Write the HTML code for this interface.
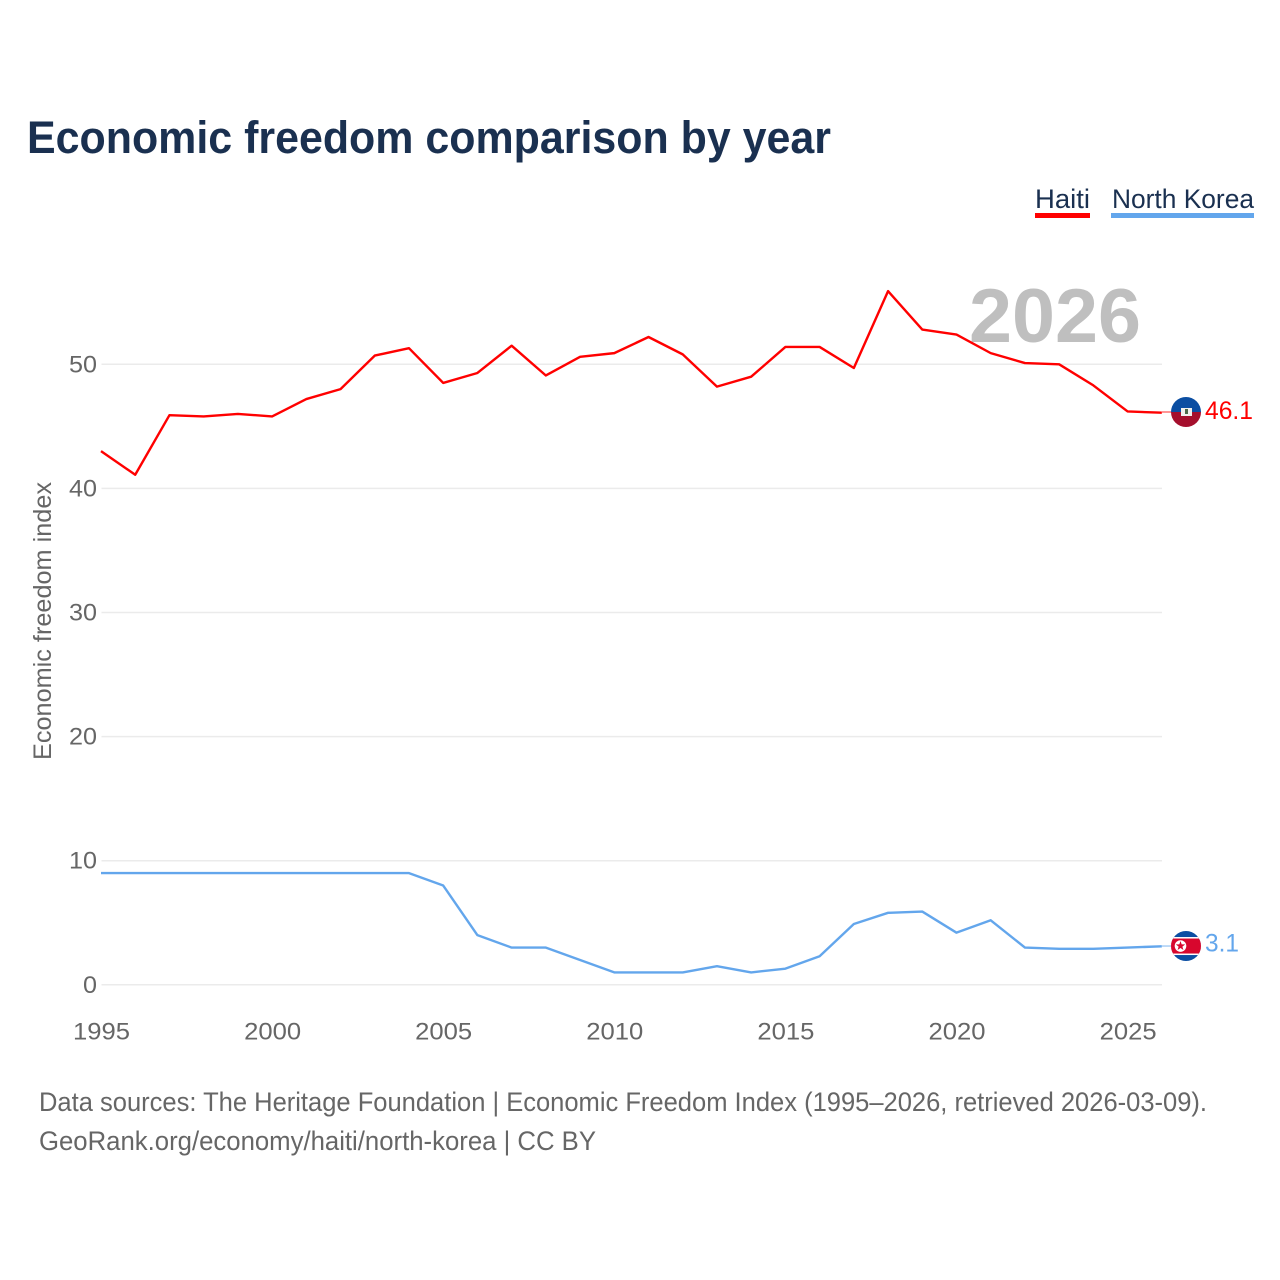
<!DOCTYPE html>
<html lang="en">
<head>
<meta charset="utf-8">
<title>Economic freedom comparison by year</title>
<style>
html,body{margin:0;padding:0;background:#fff}
svg{display:block}
text{font-family:"Liberation Sans",sans-serif}
</style>
</head>
<body>
<svg id="chart" xmlns="http://www.w3.org/2000/svg" width="1280" height="1280" viewBox="0 0 1280 1280">
  <defs>
    <clipPath id="clip-haiti"><circle id="clip-haiti-c" cx="1186" cy="412" r="15"/></clipPath>
    <clipPath id="clip-nk"><circle id="clip-nk-c" cx="1186" cy="946" r="15"/></clipPath>
  </defs>
  <rect width="1280" height="1280" fill="#fff"/>
  <text x="27" y="153" font-size="45" font-weight="700" fill="#1a3050" textLength="804" lengthAdjust="spacingAndGlyphs">Economic freedom comparison by year</text>
  <g>
    <g>
      <text x="1035" y="208" font-size="27" fill="#1a3050" textLength="55" lengthAdjust="spacingAndGlyphs">Haiti</text>
      <rect x="1035" y="213" width="55" height="5" fill="#ff0000"/>
    </g>
    <g>
      <text x="1112" y="208" font-size="27" fill="#1a3050" textLength="142" lengthAdjust="spacingAndGlyphs">North Korea</text>
      <rect x="1111" y="213" width="143" height="5" fill="#63a6ec"/>
    </g>
  </g>
  <text x="969" y="342" font-size="76" font-weight="700" fill="#bfbfbf" textLength="172" lengthAdjust="spacingAndGlyphs">2026</text>
  <g id="grid"></g>
  <g id="yticks"></g>
  <g id="xticks"></g>
  <text transform="translate(51,760) rotate(-90)" x="0" y="0" font-size="25" fill="#666" textLength="278" lengthAdjust="spacingAndGlyphs">Economic freedom index</text>
  <g id="series"></g>
  <g id="flag-haiti" clip-path="url(#clip-haiti)"></g>
  <g id="flag-nk" clip-path="url(#clip-nk)"></g>
  <g id="end-labels"></g>
  <text x="39" y="1111" font-size="27" fill="#666" textLength="1168" lengthAdjust="spacingAndGlyphs">Data sources: The Heritage Foundation | Economic Freedom Index (1995–2026, retrieved 2026-03-09).</text>
  <text x="39" y="1150" font-size="27" fill="#666" textLength="557" lengthAdjust="spacingAndGlyphs">GeoRank.org/economy/haiti/north-korea | CC BY</text>
</svg>
<script>
const years = [1995,1996,1997,1998,1999,2000,2001,2002,2003,2004,2005,2006,2007,2008,2009,2010,2011,2012,2013,2014,2015,2016,2017,2018,2019,2020,2021,2022,2023,2024,2025,2026];
const haitiValues = [43.0,41.1,45.9,45.8,46.0,45.8,47.2,48.0,50.7,51.3,48.5,49.3,51.5,49.1,50.6,50.9,52.2,50.8,48.2,49.0,51.4,51.4,49.7,55.9,52.8,52.4,50.9,50.1,50.0,48.3,46.2,46.1];
const northKoreaValues = [9.0,9.0,9.0,9.0,9.0,9.0,9.0,9.0,9.0,9.0,8.0,4.0,3.0,3.0,2.0,1.0,1.0,1.0,1.5,1.0,1.3,2.3,4.9,5.8,5.9,4.2,5.2,3.0,2.9,2.9,3.0,3.1];
const yTicks = [0,10,20,30,40,50];
const xTicks = [1995,2000,2005,2010,2015,2020,2025];

const NS = 'http://www.w3.org/2000/svg';
function xScale(year){ return 101 + (year - 1995) * 34.22; }
function yScale(v){ return 984.8 - v * 12.41; }
function make(tag, parent, attrs){
  const el = document.createElementNS(NS, tag);
  for (const k in attrs) el.setAttribute(k, attrs[k]);
  parent.appendChild(el);
  return el;
}
const gridG = document.getElementById('grid');
const yG = document.getElementById('yticks');
const xG = document.getElementById('xticks');
const seriesG = document.getElementById('series');
const labelsG = document.getElementById('end-labels');

yTicks.forEach(function(t){
  const line = make('line', gridG, {x1:101.5, x2:1162, y1:yScale(t), y2:yScale(t), stroke:'#ebebeb', 'stroke-width':1.5});
  
  
  const s = String(t);
  const label = make('text', yG, {x:97, y:yScale(t)+8, 'text-anchor':'end', 'font-size':24, fill:'#666', textLength:s.length*14, lengthAdjust:'spacingAndGlyphs'});
  
  
  label.textContent = s;
});

xTicks.forEach(function(t){
  const label = make('text', xG, {x:xScale(t)+0.5, y:1039.5, 'text-anchor':'middle', 'font-size':24, fill:'#666', textLength:57, lengthAdjust:'spacingAndGlyphs'});
  
  
  label.textContent = String(t);
});

function pathFor(values){
  return values.map(function(v,i){ return (i ? 'L' : 'M') + xScale(years[i]).toFixed(2) + ' ' + yScale(v).toFixed(2); }).join(' ');
}

const haitiLine = make('path', seriesG, {d:pathFor(haitiValues), fill:'none', stroke:'#ff0000', 'stroke-width':2.4, 'stroke-linejoin':'round'});


const nkLine = make('path', seriesG, {d:pathFor(northKoreaValues), fill:'none', stroke:'#63a6ec', 'stroke-width':2.4, 'stroke-linejoin':'round'});



const hLast = haitiValues[haitiValues.length-1];
const nLast = northKoreaValues[northKoreaValues.length-1];
const hy = yScale(hLast) - 0.7;
const ny = yScale(nLast) - 0.3;

const hConn = make('line', seriesG, {x1:1162, x2:1171, y1:hy, y2:hy, stroke:'#ff0000', 'stroke-width':1.5, opacity:0.55});


const nConn = make('line', seriesG, {x1:1162, x2:1171, y1:ny, y2:ny, stroke:'#63a6ec', 'stroke-width':1.5, opacity:0.55});



document.getElementById('clip-haiti-c').setAttribute('cy', hy);
document.getElementById('clip-nk-c').setAttribute('cy', ny);

const fh = document.getElementById('flag-haiti');
make('rect', fh, {x:1170, y:hy-16, width:32, height:16, fill:'#0b4ea2'});
make('rect', fh, {x:1170, y:hy, width:32, height:16, fill:'#a50f2d'});
make('rect', fh, {x:1181, y:hy-4, width:11, height:8, fill:'#f1f1ee'});
make('rect', fh, {x:1185, y:hy-3, width:3, height:5, fill:'#4d6a4a'});

const fn = document.getElementById('flag-nk');
make('rect', fn, {x:1170, y:ny-16, width:32, height:32, fill:'#0b4ea2'});
make('rect', fn, {x:1170, y:ny-9, width:32, height:18, fill:'#ffffff'});
make('rect', fn, {x:1170, y:ny-7.5, width:32, height:15, fill:'#d8072d'});
make('circle', fn, {cx:1180.5, cy:ny, r:5.8, fill:'#fff'});
make('path', fn, {d:'M1180.5 '+(ny-5)+' l1.2 3.4 3.5 0 -2.8 2.2 1 3.4 -2.9-2 -2.9 2 1-3.4 -2.8-2.2 3.5 0z', fill:'#d8072d'});

const hLabel = make('text', labelsG, {x:1205, y:hy+7, 'font-size':25, fill:'#ff0000', textLength:48, lengthAdjust:'spacingAndGlyphs'});


hLabel.textContent = hLast.toFixed(1);
const nLabel = make('text', labelsG, {x:1205, y:ny+5.5, 'font-size':25, fill:'#63a6ec', textLength:34, lengthAdjust:'spacingAndGlyphs'});


nLabel.textContent = nLast.toFixed(1);
</script>
</body>
</html>
